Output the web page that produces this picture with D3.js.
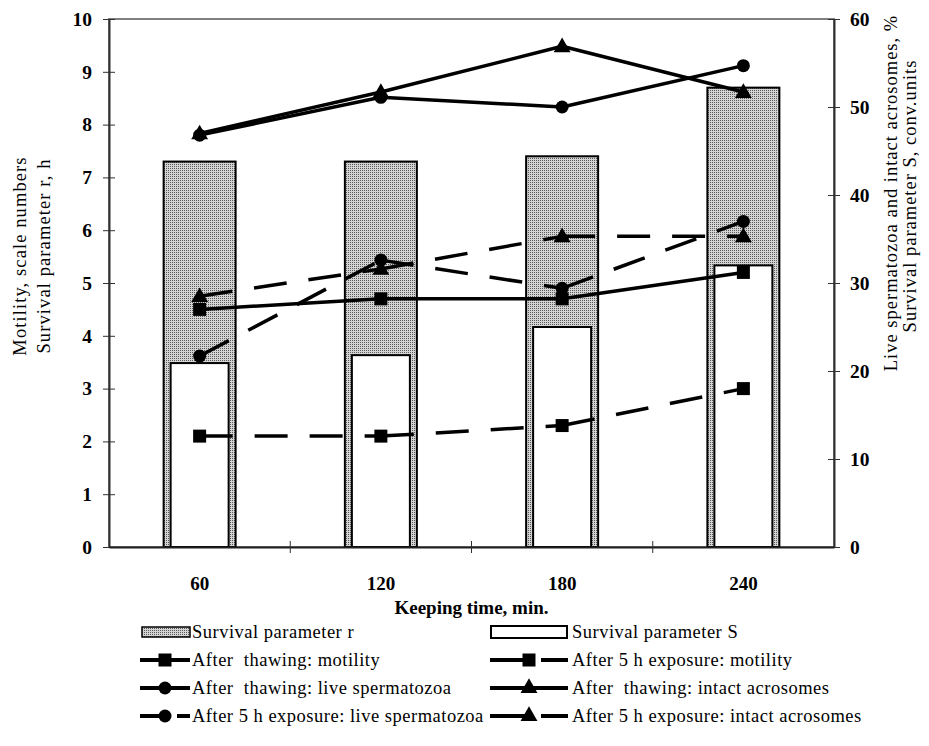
<!DOCTYPE html>
<html><head><meta charset="utf-8">
<script src="https://cdn.jsdelivr.net/npm/d3@7"></script>
<style>
body{margin:0;background:#fff;}
text{font-family:"Liberation Serif","Times New Roman",serif;fill:#000;}
</style></head><body>
<svg id="chart" width="929" height="746"></svg>
<script>
// ---- data ----
const categories = ["60", "120", "180", "240"];
const survivalR = [7.3, 7.3, 7.4, 8.7];          // left axis, h
const survivalS = [20.9, 21.8, 25.0, 32.0];      // right axis, conv. units
const thawMotility = [4.5, 4.7, 4.7, 5.2];       // left axis
const expoMotility = [2.1, 2.1, 2.3, 3.0];       // left axis
const thawLive = [46.8, 51.1, 50.0, 54.7];       // right axis, %
const thawAcro = [47.0, 51.7, 56.9, 51.7];       // right axis, %
const expoLive = [21.7, 32.6, 29.4, 37.0];       // right axis, %
const expoAcro = [28.5, 31.6, 35.3, 35.3];       // right axis, %
const leftTicks = [0, 1, 2, 3, 4, 5, 6, 7, 8, 9, 10];
const rightTicks = [0, 10, 20, 30, 40, 50, 60];
const xTitle = "Keeping time, min.";
const leftTitle = ["Motility, scale numbers", "Survival parameter r, h"];
const rightTitle = ["Live spermatozoa and intact acrosomes, %", "Survival parameter S, conv.units"];

const lineSeries = [
  {name: "After  thawing: motility", values: thawMotility, axis: "L", dashed: false, marker: "square"},
  {name: "After 5 h exposure: motility", values: expoMotility, axis: "L", dashed: true, marker: "square"},
  {name: "After  thawing: live spermatozoa", values: thawLive, axis: "R", dashed: false, marker: "circle"},
  {name: "After  thawing: intact acrosomes", values: thawAcro, axis: "R", dashed: false, marker: "triangle"},
  {name: "After 5 h exposure: live spermatozoa", values: expoLive, axis: "R", dashed: true, marker: "circle"},
  {name: "After 5 h exposure: intact acrosomes", values: expoAcro, axis: "R", dashed: true, marker: "triangle"}
];

// ---- layout ----
const M = {left: 109, right: 834, top: 19, bottom: 547};
const svg = d3.select("#chart");

const defs = svg.append("defs");
const pat = defs.append("pattern").attr("id", "dots").attr("patternUnits", "userSpaceOnUse")
  .attr("width", 2).attr("height", 2);
pat.append("rect").attr("width", 2).attr("height", 2).attr("fill", "#d4d4d4");
pat.append("rect").attr("width", 1).attr("height", 1).attr("fill", "#5a5a5a");

const x = d3.scaleBand().domain(categories).range([M.left, M.right]).padding(0);
const yL = d3.scaleLinear().domain([0, 10]).range([M.bottom, M.top]);
const yR = d3.scaleLinear().domain([0, 60]).range([M.bottom, M.top]);
const cx = c => x(c) + x.bandwidth() / 2;

// plot frame
svg.append("rect").attr("x", M.left).attr("y", M.top)
  .attr("width", M.right - M.left).attr("height", M.bottom - M.top)
  .attr("fill", "none").attr("stroke", "#808080").attr("stroke-width", 2);

// bars r
const rW = 72, sW = 58;
svg.append("g").selectAll("rect").data(categories).join("rect")
  .attr("x", (c) => cx(c) - rW / 2).attr("y", (c, i) => yL(survivalR[i]))
  .attr("width", rW).attr("height", (c, i) => yL(0) - yL(survivalR[i]))
  .attr("fill", "url(#dots)").attr("stroke", "#000").attr("stroke-width", 2);
// bars S
svg.append("g").selectAll("rect").data(categories).join("rect")
  .attr("x", (c) => cx(c) - sW / 2).attr("y", (c, i) => yR(survivalS[i]))
  .attr("width", sW).attr("height", (c, i) => yR(0) - yR(survivalS[i]))
  .attr("fill", "#fff").attr("stroke", "#000").attr("stroke-width", 2);

// axes
const axL = d3.axisLeft(yL).tickValues(leftTicks).tickSize(0).tickPadding(17);
const gL = svg.append("g").attr("transform", `translate(${M.left},0)`).call(axL);
const axR = d3.axisRight(yR).tickValues(rightTicks).tickSize(0).tickPadding(16);
const gR = svg.append("g").attr("transform", `translate(${M.right},0)`).call(axR);
[gL, gR].forEach(g => {
  g.select(".domain").attr("stroke", "#303030").attr("stroke-width", 2);
  g.selectAll("text").attr("font-size", 19.5).attr("font-weight", "bold")
    .attr("font-family", "Liberation Serif, serif").attr("fill", "#000");
});
// crossing ticks
gL.selectAll(".tick").append("line").attr("x1", -6).attr("x2", 6).attr("stroke", "#303030").attr("stroke-width", 1);
gR.selectAll(".tick").append("line").attr("x1", -6).attr("x2", 6).attr("stroke", "#303030").attr("stroke-width", 1);

const axB = d3.axisBottom(x).tickSize(0).tickPadding(30);
const gB = svg.append("g").attr("transform", `translate(0,${M.bottom})`).call(axB);
gB.select(".domain").attr("stroke", "#202020").attr("stroke-width", 2);
gB.selectAll("text").attr("font-size", 19).attr("font-weight", "bold")
  .attr("font-family", "Liberation Serif, serif").attr("fill", "#000");
const bounds = categories.map(c => x(c) + x.bandwidth()).slice(0, -1);
gB.selectAll(".btick").data(bounds).join("line").attr("class", "btick")
  .attr("x1", d => d).attr("x2", d => d).attr("y1", -6).attr("y2", 6)
  .attr("stroke", "#303030").attr("stroke-width", 1);

// axis titles
svg.append("text").attr("x", (M.left + M.right) / 2).attr("y", 614)
  .attr("text-anchor", "middle").attr("font-size", 19).attr("font-weight", "bold").text(xTitle);
const lt = svg.append("g");
lt.append("text").attr("transform", "translate(26,256) rotate(-90)").attr("text-anchor", "middle")
  .attr("font-size", 18.5).attr("letter-spacing", 1.1).text(leftTitle[0]);
lt.append("text").attr("transform", "translate(50,256) rotate(-90)").attr("text-anchor", "middle")
  .attr("font-size", 18.5).attr("letter-spacing", 1.1).text(leftTitle[1]);
svg.append("text").attr("transform", "translate(897,193) rotate(-90)").attr("text-anchor", "middle")
  .attr("font-size", 18.5).attr("letter-spacing", 1.0).text(rightTitle[0]);
svg.append("text").attr("transform", "translate(916,196) rotate(-90)").attr("text-anchor", "middle")
  .attr("font-size", 18.5).attr("letter-spacing", 1.0).text(rightTitle[1]);

// lines
const LW = 3.5;
function markerPath(type, size) {
  if (type === "square") return d3.symbol(d3.symbolSquare, size * size)();
  if (type === "circle") return d3.symbol(d3.symbolCircle, Math.PI * (size / 2) * (size / 2))();
  return d3.symbol(d3.symbolTriangle, size * size * 0.55)();
}
const gLines = svg.append("g");
lineSeries.forEach(s => {
  const y = s.axis === "L" ? yL : yR;
  const pts = categories.map((c, i) => [cx(c), y(s.values[i])]);
  for (let i = 0; i < pts.length - 1; i++) {
    gLines.append("path").attr("d", d3.line()([pts[i], pts[i + 1]]))
      .attr("fill", "none").attr("stroke", "#000").attr("stroke-width", LW)
      .attr("stroke-dasharray", s.dashed ? "33,22" : null);
  }
});
const gMarks = svg.append("g");
lineSeries.forEach(s => {
  const y = s.axis === "L" ? yL : yR;
  const sz = s.marker === "triangle" ? 15 : 13;
  gMarks.selectAll(null).data(categories).join("path")
    .attr("transform", (c, i) => `translate(${cx(c)},${y(s.values[i]) + (s.marker === "triangle" ? 1 : 0)})`)
    .attr("d", markerPath(s.marker, sz)).attr("fill", "#000");
});

// legend
const legItems = [
  {type: "barR", name: "Survival parameter r"},
  {type: "barS", name: "Survival parameter S"}
].concat(lineSeries.map(s => ({type: "line", name: s.name, s})));
const colX = [140, 490], colW = [50, 78], textX = [192, 572];
const rowY = [632, 660, 688, 716];
const gLeg = svg.append("g");
legItems.forEach((it, k) => {
  const col = k % 2, row = Math.floor(k / 2);
  const x0 = colX[col], w = colW[col], yc = rowY[row];
  const g = gLeg.append("g");
  if (it.type === "barR") {
    g.append("rect").attr("x", x0 + 2).attr("y", yc - 5).attr("width", w - 2).attr("height", 10)
      .attr("fill", "url(#dots)").attr("stroke", "#000").attr("stroke-width", 1.5);
  } else if (it.type === "barS") {
    g.append("rect").attr("x", x0 + 1).attr("y", yc - 6).attr("width", w - 2).attr("height", 12)
      .attr("fill", "#fff").attr("stroke", "#000").attr("stroke-width", 2);
  } else {
    const mid = x0 + w / 2;
    if (it.s.dashed) {
      g.append("line").attr("x1", x0).attr("x2", mid).attr("y1", yc).attr("y2", yc)
        .attr("stroke", "#000").attr("stroke-width", 4);
      g.append("line").attr("x1", mid + 12).attr("x2", x0 + w).attr("y1", yc).attr("y2", yc)
        .attr("stroke", "#000").attr("stroke-width", 4);
    } else {
      g.append("line").attr("x1", x0).attr("x2", x0 + w).attr("y1", yc).attr("y2", yc)
        .attr("stroke", "#000").attr("stroke-width", 4);
    }
    const sz = it.s.marker === "triangle" ? 15 : 13;
    g.append("path").attr("transform", `translate(${mid},${yc})`)
      .attr("d", markerPath(it.s.marker, sz)).attr("fill", "#000");
  }
  g.append("text").attr("x", textX[col]).attr("y", yc + 6).attr("font-size", 18.5)
    .attr("letter-spacing", 0.5).style("white-space", "pre").text(it.name);
});
</script>
</body></html>
